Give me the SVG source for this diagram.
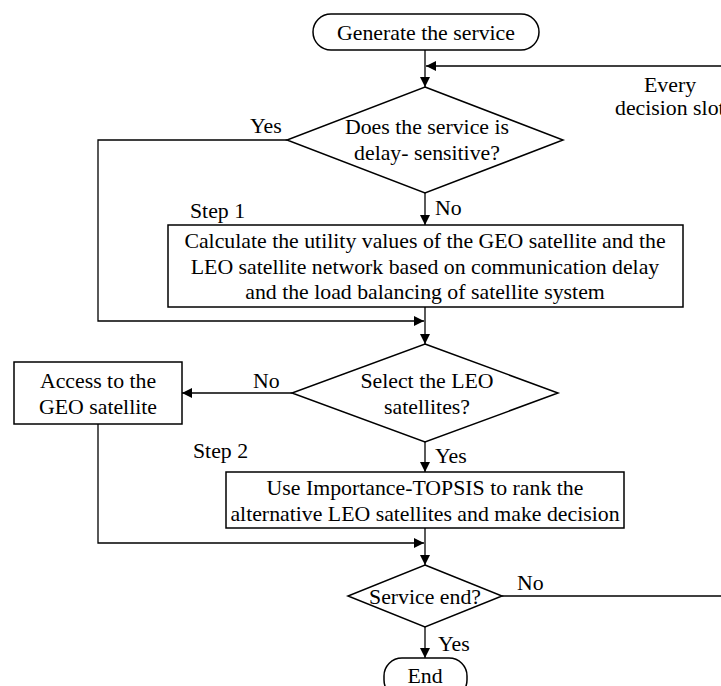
<svg xmlns="http://www.w3.org/2000/svg" width="721" height="686" viewBox="0 0 721 686">
<style>
.s{fill:#fff;stroke:#000;stroke-width:1.5}
.c{fill:none;stroke:#000;stroke-width:1.3}
text{font-family:"Liberation Serif","Times New Roman",serif;font-size:21.8px;fill:#000}
.m{text-anchor:middle}
</style>
<defs>
<marker id="a" viewBox="0 0 10 10" refX="10" refY="5" markerWidth="10" markerHeight="10" markerUnits="userSpaceOnUse" orient="auto"><path d="M0,0L10,5L0,10z" fill="#000"/></marker>
</defs>
<rect width="721" height="686" fill="#fff"/>
<g id="connectors">
<line class="c" x1="425" y1="50" x2="425" y2="87" marker-end="url(#a)"/>
<line class="c" x1="721" y1="66" x2="426" y2="66" marker-end="url(#a)"/>
<line class="c" x1="425" y1="193" x2="425" y2="225" marker-end="url(#a)"/>
<polyline class="c" points="287,140 98,140 98,321 424,321" marker-end="url(#a)"/>
<line class="c" x1="425" y1="307" x2="425" y2="344" marker-end="url(#a)"/>
<line class="c" x1="292" y1="393" x2="182" y2="393" marker-end="url(#a)"/>
<line class="c" x1="425" y1="442" x2="425" y2="472" marker-end="url(#a)"/>
<polyline class="c" points="98,424 98,543 424,543" marker-end="url(#a)"/>
<line class="c" x1="425" y1="528" x2="425" y2="565" marker-end="url(#a)"/>
<line class="c" x1="502" y1="596" x2="721" y2="596"/>
<line class="c" x1="425" y1="627" x2="425" y2="658" marker-end="url(#a)"/>
</g>
<g id="start">
<rect class="s" x="313" y="14" width="226" height="36" rx="18"/>
<text class="m" x="426" y="40">Generate the service</text>
</g>
<g id="loop-label">
<text x="644" y="92">Every</text>
<text x="615" y="115">decision slot</text>
</g>
<g id="d1">
<polygon class="s" points="425,87 563,140 425,193 287,140"/>
<text class="m" x="427" y="134">Does the service is</text>
<text class="m" x="427" y="160">delay- sensitive?</text>
<text x="250" y="133">Yes</text>
<text x="435" y="215">No</text>
</g>
<g id="step1">
<text x="190" y="218">Step 1</text>
<rect class="s" x="168" y="225" width="515" height="82"/>
<text class="m" x="425" y="248">Calculate the utility values of the GEO satellite and the</text>
<text class="m" x="425" y="274">LEO satellite network based on communication delay</text>
<text class="m" x="425" y="299">and the load balancing of satellite system</text>
</g>
<g id="d2">
<polygon class="s" points="425,344 558,393 425,442 292,393"/>
<text class="m" x="427" y="388">Select the LEO</text>
<text class="m" x="427" y="414">satellites?</text>
<text x="253" y="388">No</text>
<text x="435" y="463">Yes</text>
</g>
<g id="geo">
<rect class="s" x="14" y="362" width="168" height="62"/>
<text class="m" x="98" y="388">Access to the</text>
<text class="m" x="98" y="414">GEO satellite</text>
</g>
<g id="step2">
<text x="193" y="458">Step 2</text>
<rect class="s" x="226" y="472" width="398" height="56"/>
<text class="m" x="425" y="495">Use Importance-TOPSIS to rank the</text>
<text class="m" x="425" y="521">alternative LEO satellites and make decision</text>
</g>
<g id="d3">
<polygon class="s" points="425,565 502,596 425,627 348,596"/>
<text class="m" x="425" y="604">Service end?</text>
<text x="517" y="590">No</text>
<text x="438" y="651">Yes</text>
</g>
<g id="end">
<rect class="s" x="384" y="658" width="83" height="40" rx="18"/>
<text class="m" x="425" y="683">End</text>
</g>
</svg>
